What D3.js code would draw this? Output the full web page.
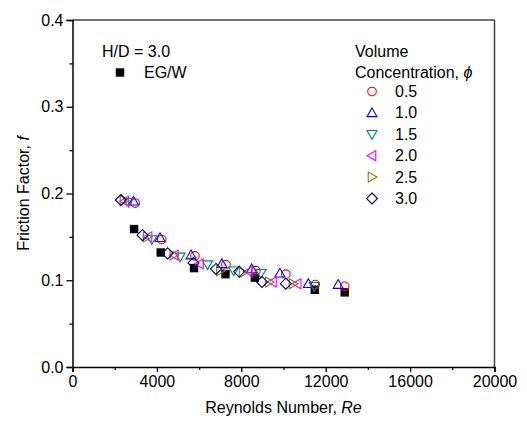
<!DOCTYPE html>
<html><head><meta charset="utf-8">
<script src="https://cdn.jsdelivr.net/npm/d3@7"></script>
<style>body{margin:0;background:#fff}svg{display:block;font-family:"Liberation Sans",Arial,sans-serif}</style>
</head><body><svg id="c" width="527" height="423"></svg>
<script>
const xTicks = [0, 4000, 8000, 12000, 16000, 20000];
const yTicks = [0.0, 0.1, 0.2, 0.3, 0.4];
const egwRe = [2920, 4180, 5760, 7250, 8640, 11480, 12900];
const egwF  = [0.159, 0.132, 0.114, 0.107, 0.103, 0.089, 0.086];
const phi05Re = [2970, 4230, 5800, 7270, 8690, 10110, 11500, 12900];
const phi05F  = [0.189, 0.147, 0.128, 0.118, 0.111, 0.107, 0.095, 0.093];
const phi10Re = [2890, 4150, 5620, 7080, 8490, 9830, 11180, 12590];
const phi10F  = [0.191, 0.149, 0.129, 0.119, 0.113, 0.108, 0.096, 0.095];
const phi15Re = [2650, 3760, 5100, 6400, 7640, 8930, 11460];
const phi15F  = [0.190, 0.147, 0.127, 0.118, 0.111, 0.108, 0.093];
const phi20Re = [2480, 3580, 4830, 6020, 8340, 9480, 10650];
const phi20F  = [0.191, 0.150, 0.129, 0.119, 0.110, 0.098, 0.096];
const phi25Re = [2440, 3540, 4800, 7010, 8080, 9320, 10450];
const phi25F  = [0.192, 0.150, 0.129, 0.111, 0.109, 0.098, 0.096];
const phi30Re = [2290, 3320, 4510, 5730, 6800, 7900, 8980, 10110];
const phi30F  = [0.1925, 0.152, 0.131, 0.120, 0.113, 0.110, 0.098, 0.096];
const seriesNames = ["0.5", "1.0", "1.5", "2.0", "2.5", "3.0"];

const svg = d3.select("#c");
const L = 72.5, R = 494.5, T = 20, B = 367;
const x = d3.scaleLinear().domain([0, 20000]).range([L, R]);
const y = d3.scaleLinear().domain([0, 0.4]).range([B, T]);
const FS = "16px";

// frame top/right
svg.append("line").attr("x1", L).attr("x2", R).attr("y1", T).attr("y2", T).attr("stroke", "#444").attr("stroke-width", 1.5);
svg.append("line").attr("x1", R).attr("x2", R).attr("y1", T).attr("y2", B).attr("stroke", "#444").attr("stroke-width", 1.5);

// x axis
const gx = svg.append("g").attr("transform", `translate(0,${B})`);
gx.call(d3.axisBottom(x).tickValues(d3.range(2000, 20000, 4000)).tickSize(3).tickFormat(""));
gx.call(g => g.selectAll(".domain").remove());
const gx2 = svg.append("g").attr("transform", `translate(0,${B})`)
  .call(d3.axisBottom(x).tickValues(xTicks).tickSize(5).tickPadding(4).tickFormat(d3.format("d")));
[gx, gx2].forEach(g => {
  g.selectAll("line").attr("stroke", "#000").attr("stroke-width", 1.3);
  g.selectAll("text").attr("font-size", FS).attr("font-family", "Liberation Sans, Arial").attr("fill", "#000");
});
gx2.select(".domain").attr("stroke", "#000").attr("stroke-width", 1.5);

// y axis
const gy = svg.append("g").attr("transform", `translate(${L},0)`)
  .call(d3.axisLeft(y).tickValues([0.05, 0.15, 0.25, 0.35]).tickSize(3).tickFormat(""));
gy.call(g => g.selectAll(".domain").remove());
const gy2 = svg.append("g").attr("transform", `translate(${L},0)`)
  .call(d3.axisLeft(y).tickValues(yTicks).tickSize(6).tickPadding(3).tickFormat(d3.format(".1f")));
[gy, gy2].forEach(g => {
  g.selectAll("line").attr("stroke", "#000").attr("stroke-width", 1.3);
  g.selectAll("text").attr("font-size", FS).attr("font-family", "Liberation Sans, Arial").attr("fill", "#000");
});
gy2.select(".domain").attr("stroke", "#000").attr("stroke-width", 1.5);

// titles
const xt = svg.append("text").attr("x", (L + R) / 2).attr("y", 413).attr("text-anchor", "middle").attr("font-size", "16px");
xt.append("tspan").text("Reynolds Number, ");
xt.append("tspan").attr("font-style", "italic").text("Re");
const yt = svg.append("text").attr("transform", `translate(29,${(T + B) / 2}) rotate(-90)`).attr("text-anchor", "middle").attr("font-size", "16px");
yt.append("tspan").text("Friction Factor, ");
yt.append("tspan").attr("font-style", "italic").text("f");

// symbols
function sym(g, type, color, cx, cy) {
  const s = 5;
  if (type === "circle") g.append("circle").attr("cx", cx).attr("cy", cy).attr("r", 4.3).attr("fill", "none").attr("stroke", color).attr("stroke-width", 1.1);
  else if (type === "square") g.append("rect").attr("x", cx - 4.2).attr("y", cy - 4.2).attr("width", 8.4).attr("height", 8.4).attr("fill", color);
  else {
    let pts;
    if (type === "up") pts = [[cx, cy - s], [cx + s, cy + s * 0.75], [cx - s, cy + s * 0.75]];
    if (type === "down") pts = [[cx, cy + s], [cx + s, cy - s * 0.75], [cx - s, cy - s * 0.75]];
    if (type === "left") pts = [[cx - s, cy], [cx + s * 0.75, cy - s], [cx + s * 0.75, cy + s]];
    if (type === "right") pts = [[cx + s, cy], [cx - s * 0.75, cy - s], [cx - s * 0.75, cy + s]];
    if (type === "diamond") pts = [[cx, cy - 5.5], [cx + 5.5, cy], [cx, cy + 5.5], [cx - 5.5, cy]];
    g.append("polygon").attr("points", pts.map(p => p.join(",")).join(" ")).attr("fill", "none").attr("stroke", color).attr("stroke-width", 1.1);
  }
}

const series = [
  {name: "0.5", re: phi05Re, f: phi05F, type: "circle", color: "#ff0000"},
  {name: "1.0", re: phi10Re, f: phi10F, type: "up", color: "#0000ff"},
  {name: "1.5", re: phi15Re, f: phi15F, type: "down", color: "#008080"},
  {name: "2.0", re: phi20Re, f: phi20F, type: "left", color: "#ff00ff"},
  {name: "2.5", re: phi25Re, f: phi25F, type: "right", color: "#808000"},
  {name: "3.0", re: phi30Re, f: phi30F, type: "diamond", color: "#000080"}
];

const gd = svg.append("g");
egwRe.forEach((r, i) => sym(gd, "square", "#000", x(r), y(egwF[i])));
series.forEach(s => s.re.forEach((r, i) => sym(gd, s.type, s.color, x(r), y(s.f[i]))));

// legends
svg.append("text").attr("x", 102).attr("y", 57).attr("font-size", FS).text("H/D = 3.0");
sym(svg, "square", "#000", 120, 72.5);
svg.append("text").attr("x", 144).attr("y", 78).attr("font-size", FS).text("EG/W");

svg.append("text").attr("x", 355).attr("y", 57).attr("font-size", FS).text("Volume");
const ct = svg.append("text").attr("x", 355).attr("y", 78).attr("font-size", FS);
ct.append("tspan").text("Concentration, ");
ct.append("tspan").attr("font-style", "italic").text("\u03D5");
series.forEach((s, i) => {
  const yy = 97 + i * 21.4;
  sym(svg, s.type, s.color, 372, yy - 5.5);
  svg.append("text").attr("x", 395).attr("y", yy).attr("font-size", FS).text(s.name);
});
</script></body></html>
